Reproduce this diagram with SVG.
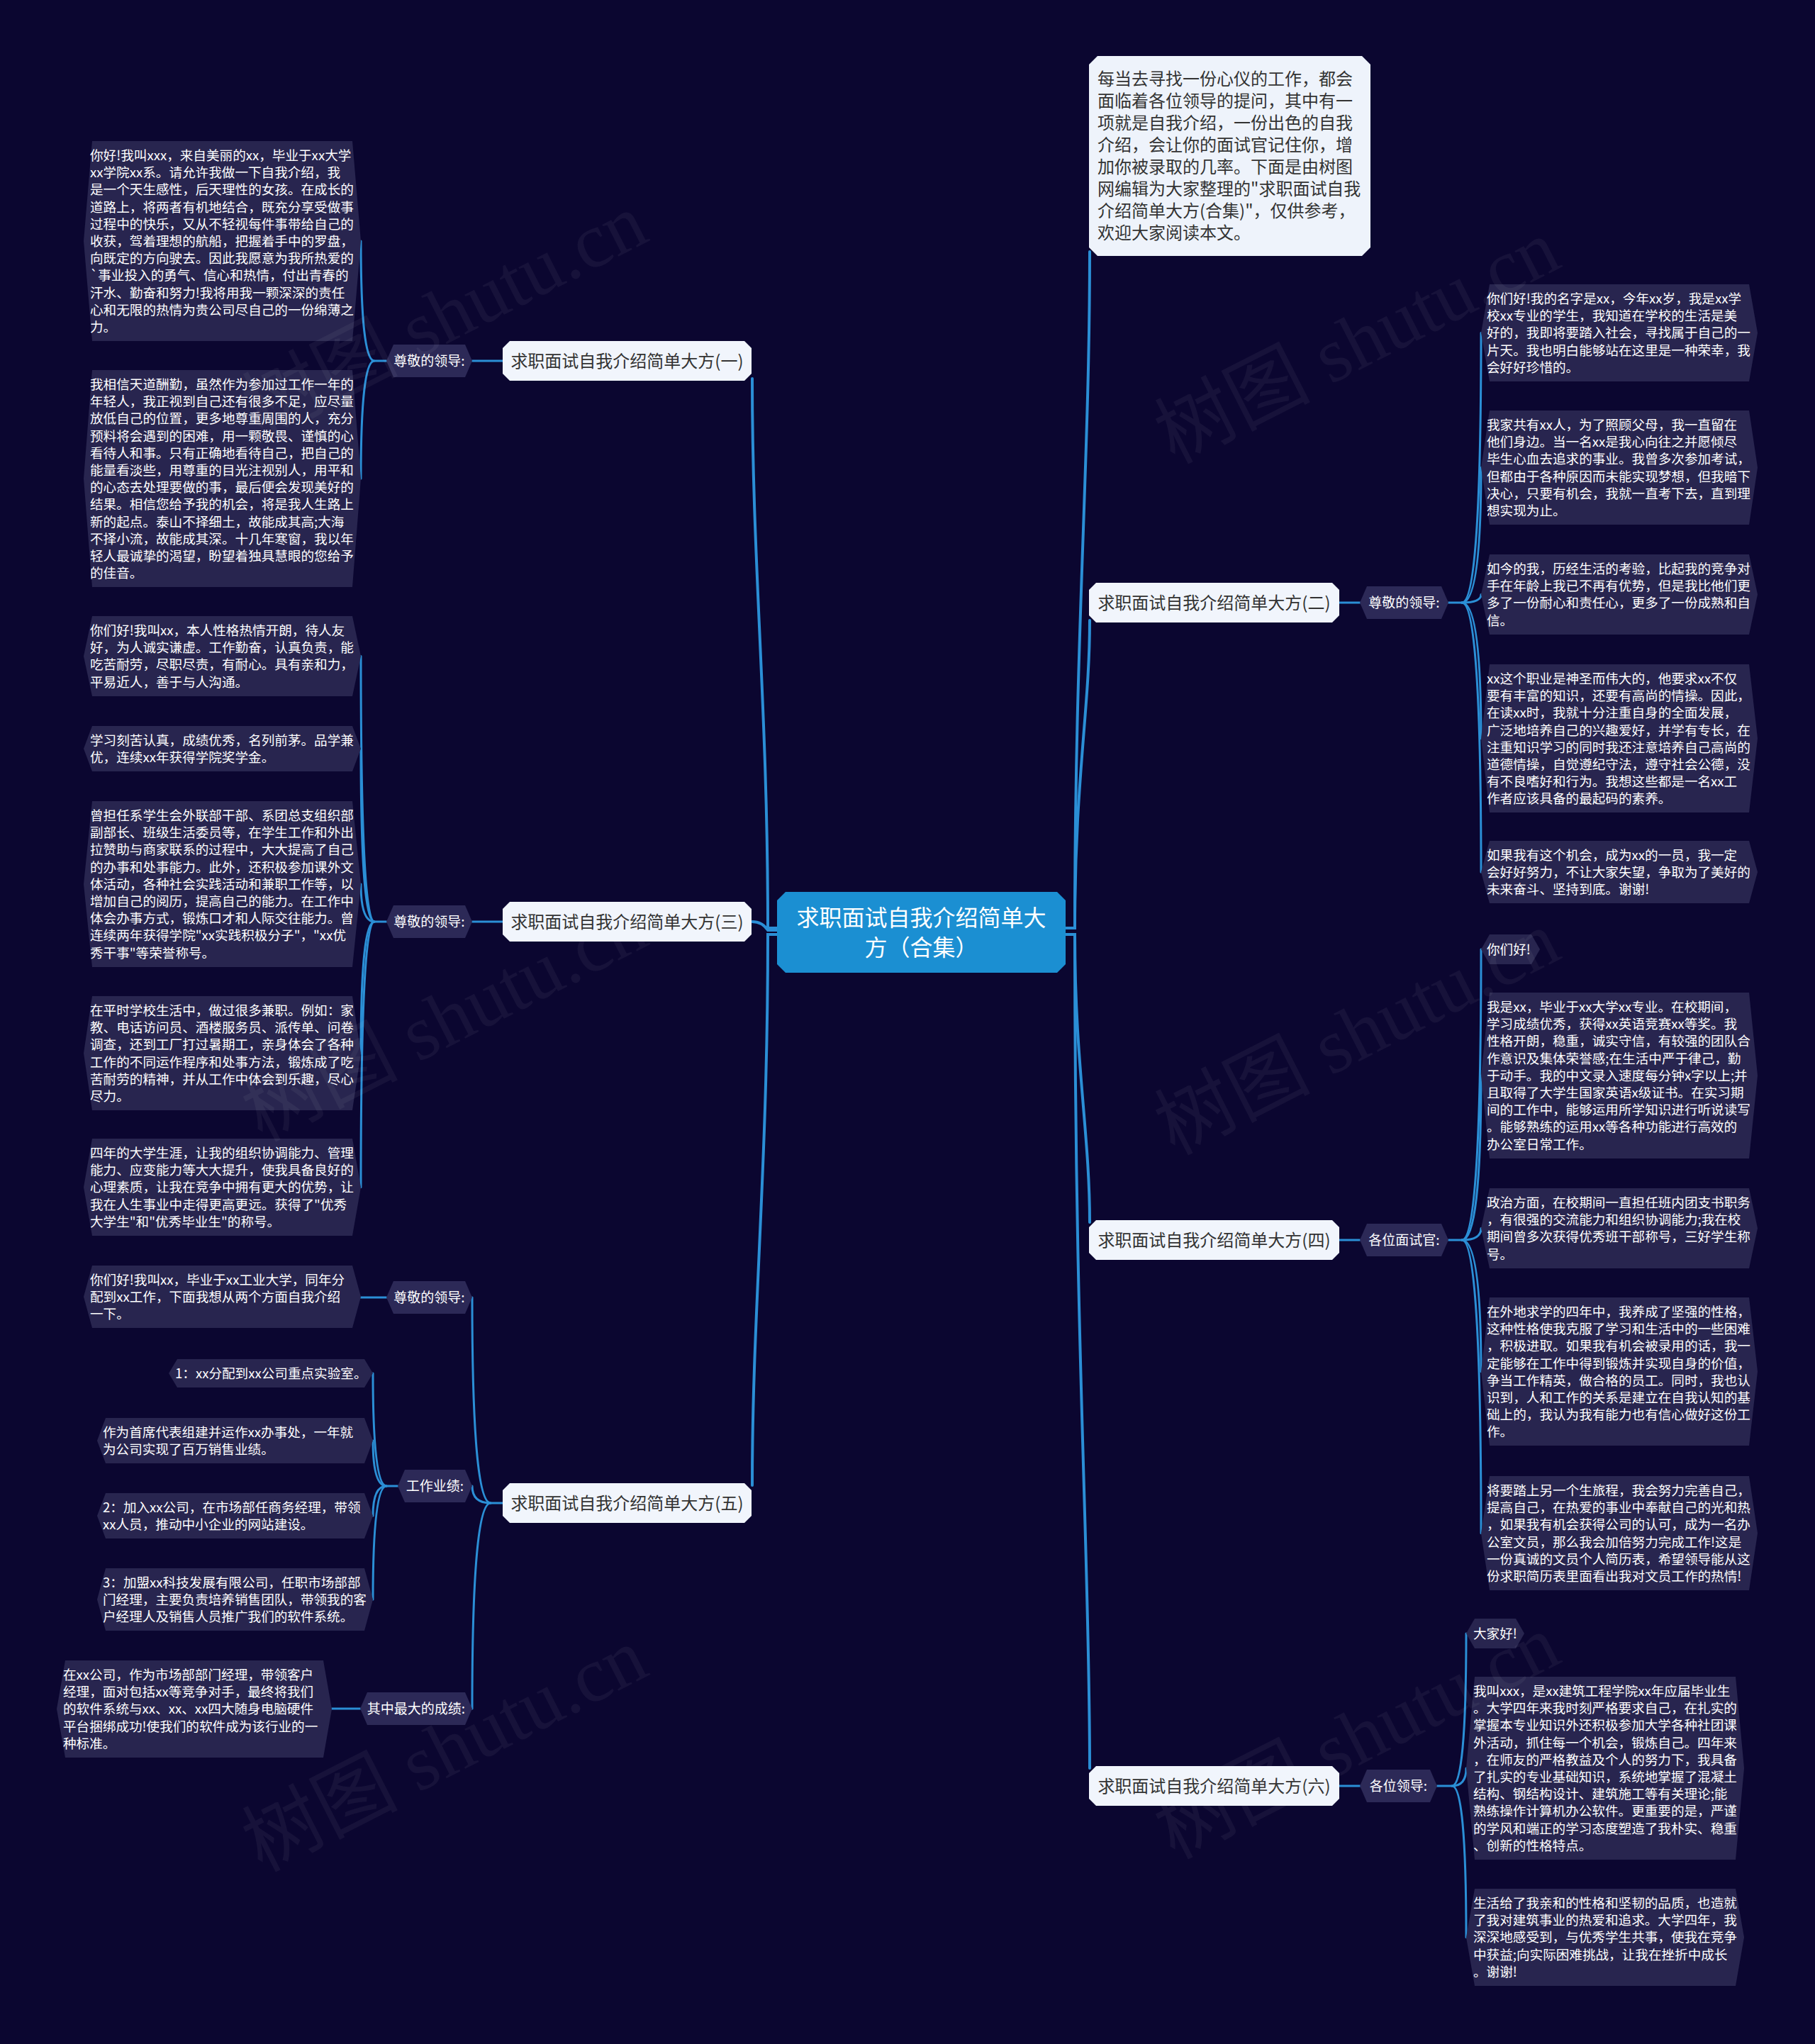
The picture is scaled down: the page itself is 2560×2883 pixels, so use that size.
<svg xmlns="http://www.w3.org/2000/svg" width="2560" height="2883" viewBox="0 0 2560 2883">
<defs>
<style>
.t{font-family:"Noto Sans CJK SC","Noto Sans",sans-serif;}
.leaf{fill:#28254f;}
.lbl{fill:#2c2957;}
.lt{font-family:"Noto Sans CJK SC","Noto Sans",sans-serif;font-size:18.6px;fill:#ffffff;}
.lbt{font-family:"Noto Sans CJK SC","Noto Sans",sans-serif;font-size:19px;fill:#ffffff;text-anchor:middle;}
.n1{fill:#f1f5fc;}
.n1t{font-family:"Noto Sans CJK SC","Noto Sans",sans-serif;font-size:24px;fill:#333333;text-anchor:middle;}
.c{fill:none;stroke:#2b8fd6;stroke-width:3;stroke-linecap:round;}
.ct{stroke-width:4;}
.wm{font-family:"Liberation Serif","Noto Sans CJK SC",serif;font-size:110px;fill:#ffffff;fill-opacity:0.05;text-anchor:middle;}
</style>
</defs>
<rect width="2560" height="2883" fill="#0b0630"/>

<g id="connectors">
<path class="c ct" d="M1096,1309 H1083 C1083,1000 1061,800 1061,534"/>
<path class="c ct" d="M1096,1312 H1083 Q1075,1300 1061,1300"/>
<path class="c ct" d="M1096,1318 H1083 C1083,1650 1061,1850 1061,2095"/>
<path class="c ct" d="M1503,1309 H1516 C1516,900 1537,650 1537,355"/>
<path class="c ct" d="M1503,1309 H1516 C1516,1100 1537,1000 1537,875"/>
<path class="c ct" d="M1503,1318 H1516 C1516,1500 1537,1600 1537,1724"/>
<path class="c ct" d="M1503,1318 H1516 C1516,1900 1537,2200 1537,2494"/>
<path class="c" d="M709,509 H666"/>
<path class="c" d="M709,1300 H666"/>
<path class="c" d="M1889,850 H1918"/>
<path class="c" d="M1889,1749 H1918"/>
<path class="c" d="M1889,2519 H1918"/>
<path class="c" d="M709,2120 H692 Q666,2120 666,1830"/>
<path class="c" d="M692,2120 Q666,2120 666,2096"/>
<path class="c" d="M692,2120 Q666,2120 666,2410"/>
<path class="c" d="M545,509 H528 Q509,509 509,340"/>
<path class="c" d="M528,509 Q509,509 509,675"/>
<path class="c" d="M545,1300 H528 Q509,1300 509,925.5"/>
<path class="c" d="M528,1300 Q509,1300 509,1056"/>
<path class="c" d="M528,1300 Q509,1300 509,1247"/>
<path class="c" d="M528,1300 Q509,1300 509,1485.5"/>
<path class="c" d="M528,1300 Q509,1300 509,1674.5"/>
<path class="c" d="M545,1830 H509"/>
<path class="c" d="M561,2096 H545 Q526,2096 526,1937"/>
<path class="c" d="M545,2096 Q526,2096 526,2032"/>
<path class="c" d="M545,2096 Q526,2096 526,2138"/>
<path class="c" d="M545,2096 Q526,2096 526,2256"/>
<path class="c" d="M508,2410 H468"/>
<path class="c" d="M2043,850 H2062 Q2089,850 2089,469.5"/>
<path class="c" d="M2062,850 Q2089,850 2089,659.5"/>
<path class="c" d="M2062,850 Q2089,850 2089,838.5"/>
<path class="c" d="M2062,850 Q2089,850 2089,1041.5"/>
<path class="c" d="M2062,850 Q2089,850 2089,1230"/>
<path class="c" d="M2043,1749 H2062 Q2089,1749 2089,1339"/>
<path class="c" d="M2062,1749 Q2089,1749 2089,1517"/>
<path class="c" d="M2062,1749 Q2089,1749 2089,1732.5"/>
<path class="c" d="M2062,1749 Q2089,1749 2089,1934.5"/>
<path class="c" d="M2062,1749 Q2089,1749 2089,2162.5"/>
<path class="c" d="M2027,2519 H2048 Q2068,2519 2068,2304"/>
<path class="c" d="M2048,2519 Q2068,2519 2068,2494"/>
<path class="c" d="M2048,2519 Q2068,2519 2068,2732.5"/>
</g>

<g id="center">
<polygon points="1108,1258 1491,1258 1503,1270 1503,1360 1491,1372 1108,1372 1096,1360 1096,1270" fill="#1b8fd2"/>
<text class="t" x="1299.5" y="1306" font-size="32" fill="#ffffff" text-anchor="middle">求职面试自我介绍简单大</text>
<text class="t" x="1299.5" y="1348" font-size="32" fill="#ffffff" text-anchor="middle">方（合集）</text>
</g>

<g id="intro">
<polygon points="1548,79 1921,79 1933,91 1933,349 1921,361 1548,361 1536,349 1536,91" fill="#eef3fb"/>
<text class="t" x="1548" y="119.5" font-size="24" fill="#333333">
<tspan x="1548" dy="0">每当去寻找一份心仪的工作，都会</tspan>
<tspan x="1548" dy="31">面临着各位领导的提问，其中有一</tspan>
<tspan x="1548" dy="31">项就是自我介绍，一份出色的自我</tspan>
<tspan x="1548" dy="31">介绍，会让你的面试官记住你，增</tspan>
<tspan x="1548" dy="31">加你被录取的几率。下面是由树图</tspan>
<tspan x="1548" dy="31">网编辑为大家整理的"求职面试自我</tspan>
<tspan x="1548" dy="31">介绍简单大方(合集)"，仅供参考，</tspan>
<tspan x="1548" dy="31">欢迎大家阅读本文。</tspan>
</text>
</g>

<g id="b1">
<polygon class="n1" points="719,481 1050,481 1060,491 1060,527 1050,537 719,537 709,527 709,491"/>
<text class="n1t" x="884.5" y="517.5">求职面试自我介绍简单大方(一)</text>
</g>
<g id="b1-label">
<polygon class="lbl" points="555,486 656,486 666,509 656,532 555,532 545,509"/>
<text class="lbt" x="605.5" y="515.5">尊敬的领导:</text>
</g>
<g id="L1">
<polygon class="leaf" points="130,199 497,199 509,340 497,481 130,481 118,340"/>
<text class="lt" x="127" y="226">
<tspan x="127" dy="0">你好!我叫xxx，来自美丽的xx，毕业于xx大学</tspan>
<tspan x="127" dy="24.2">xx学院xx系。请允许我做一下自我介绍，我</tspan>
<tspan x="127" dy="24.2">是一个天生感性，后天理性的女孩。在成长的</tspan>
<tspan x="127" dy="24.2">道路上，将两者有机地结合，既充分享受做事</tspan>
<tspan x="127" dy="24.2">过程中的快乐，又从不轻视每件事带给自己的</tspan>
<tspan x="127" dy="24.2">收获，驾着理想的航船，把握着手中的罗盘，</tspan>
<tspan x="127" dy="24.2">向既定的方向驶去。因此我愿意为我所热爱的</tspan>
<tspan x="127" dy="24.2">`事业投入的勇气、信心和热情，付出青春的</tspan>
<tspan x="127" dy="24.2">汗水、勤奋和努力!我将用我一颗深深的责任</tspan>
<tspan x="127" dy="24.2">心和无限的热情为贵公司尽自己的一份绵薄之</tspan>
<tspan x="127" dy="24.2">力。</tspan>
</text>
</g>
<g id="L2">
<polygon class="leaf" points="130,522 497,522 509,675 497,828 130,828 118,675"/>
<text class="lt" x="127" y="549">
<tspan x="127" dy="0">我相信天道酬勤，虽然作为参加过工作一年的</tspan>
<tspan x="127" dy="24.2">年轻人，我正视到自己还有很多不足，应尽量</tspan>
<tspan x="127" dy="24.2">放低自己的位置，更多地尊重周围的人，充分</tspan>
<tspan x="127" dy="24.2">预料将会遇到的困难，用一颗敬畏、谨慎的心</tspan>
<tspan x="127" dy="24.2">看待人和事。只有正确地看待自己，把自己的</tspan>
<tspan x="127" dy="24.2">能量看淡些，用尊重的目光注视别人，用平和</tspan>
<tspan x="127" dy="24.2">的心态去处理要做的事，最后便会发现美好的</tspan>
<tspan x="127" dy="24.2">结果。相信您给予我的机会，将是我人生路上</tspan>
<tspan x="127" dy="24.2">新的起点。泰山不择细土，故能成其高;大海</tspan>
<tspan x="127" dy="24.2">不择小流，故能成其深。十几年寒窗，我以年</tspan>
<tspan x="127" dy="24.2">轻人最诚挚的渴望，盼望着独具慧眼的您给予</tspan>
<tspan x="127" dy="24.2">的佳音。</tspan>
</text>
</g>

<g id="b3">
<polygon class="n1" points="719,1272 1050,1272 1060,1282 1060,1318 1050,1328 719,1328 709,1318 709,1282"/>
<text class="n1t" x="884.5" y="1308.5">求职面试自我介绍简单大方(三)</text>
</g>
<g id="b3-label">
<polygon class="lbl" points="555,1277 656,1277 666,1300 656,1323 555,1323 545,1300"/>
<text class="lbt" x="605.5" y="1306.5">尊敬的领导:</text>
</g>
<g id="L3">
<polygon class="leaf" points="130,869 497,869 509,925.5 497,982 130,982 118,925.5"/>
<text class="lt" x="127" y="896">
<tspan x="127" dy="0">你们好!我叫xx，本人性格热情开朗，待人友</tspan>
<tspan x="127" dy="24.2">好，为人诚实谦虚。工作勤奋，认真负责，能</tspan>
<tspan x="127" dy="24.2">吃苦耐劳，尽职尽责，有耐心。具有亲和力，</tspan>
<tspan x="127" dy="24.2">平易近人，善于与人沟通。</tspan>
</text>
</g>
<g id="L4">
<polygon class="leaf" points="130,1024 497,1024 509,1056 497,1088 130,1088 118,1056"/>
<text class="lt" x="127" y="1051">
<tspan x="127" dy="0">学习刻苦认真，成绩优秀，名列前茅。品学兼</tspan>
<tspan x="127" dy="24.2">优，连续xx年获得学院奖学金。</tspan>
</text>
</g>
<g id="L5">
<polygon class="leaf" points="130,1130 497,1130 509,1247 497,1364 130,1364 118,1247"/>
<text class="lt" x="127" y="1157">
<tspan x="127" dy="0">曾担任系学生会外联部干部、系团总支组织部</tspan>
<tspan x="127" dy="24.2">副部长、班级生活委员等，在学生工作和外出</tspan>
<tspan x="127" dy="24.2">拉赞助与商家联系的过程中，大大提高了自己</tspan>
<tspan x="127" dy="24.2">的办事和处事能力。此外，还积极参加课外文</tspan>
<tspan x="127" dy="24.2">体活动，各种社会实践活动和兼职工作等，以</tspan>
<tspan x="127" dy="24.2">增加自己的阅历，提高自己的能力。在工作中</tspan>
<tspan x="127" dy="24.2">体会办事方式，锻炼口才和人际交往能力。曾</tspan>
<tspan x="127" dy="24.2">连续两年获得学院"xx实践积极分子"，"xx优</tspan>
<tspan x="127" dy="24.2">秀干事"等荣誉称号。</tspan>
</text>
</g>
<g id="L6">
<polygon class="leaf" points="130,1405 497,1405 509,1485.5 497,1566 130,1566 118,1485.5"/>
<text class="lt" x="127" y="1432">
<tspan x="127" dy="0">在平时学校生活中，做过很多兼职。例如：家</tspan>
<tspan x="127" dy="24.2">教、电话访问员、酒楼服务员、派传单、问卷</tspan>
<tspan x="127" dy="24.2">调查，还到工厂打过暑期工，亲身体会了各种</tspan>
<tspan x="127" dy="24.2">工作的不同运作程序和处事方法，锻炼成了吃</tspan>
<tspan x="127" dy="24.2">苦耐劳的精神，并从工作中体会到乐趣，尽心</tspan>
<tspan x="127" dy="24.2">尽力。</tspan>
</text>
</g>
<g id="L7">
<polygon class="leaf" points="130,1606 497,1606 509,1674.5 497,1743 130,1743 118,1674.5"/>
<text class="lt" x="127" y="1633">
<tspan x="127" dy="0">四年的大学生涯，让我的组织协调能力、管理</tspan>
<tspan x="127" dy="24.2">能力、应变能力等大大提升，使我具备良好的</tspan>
<tspan x="127" dy="24.2">心理素质，让我在竞争中拥有更大的优势，让</tspan>
<tspan x="127" dy="24.2">我在人生事业中走得更高更远。获得了"优秀</tspan>
<tspan x="127" dy="24.2">大学生"和"优秀毕业生"的称号。</tspan>
</text>
</g>

<g id="b5">
<polygon class="n1" points="719,2092 1050,2092 1060,2102 1060,2138 1050,2148 719,2148 709,2138 709,2102"/>
<text class="n1t" x="884.5" y="2128.5">求职面试自我介绍简单大方(五)</text>
</g>
<g id="b5-label1">
<polygon class="lbl" points="555,1807 656,1807 666,1830 656,1853 555,1853 545,1830"/>
<text class="lbt" x="605.5" y="1836.5">尊敬的领导:</text>
</g>
<g id="b5-label2">
<polygon class="lbl" points="571,2073 656,2073 666,2096 656,2119 571,2119 561,2096"/>
<text class="lbt" x="613.5" y="2102.5">工作业绩:</text>
</g>
<g id="b5-label3">
<polygon class="lbl" points="518,2387 656,2387 666,2410 656,2433 518,2433 508,2410"/>
<text class="lbt" x="587" y="2416.5">其中最大的成绩:</text>
</g>
<g id="L8">
<polygon class="leaf" points="130,1785 497,1785 509,1829 497,1873 130,1873 118,1829"/>
<text class="lt" x="127" y="1812">
<tspan x="127" dy="0">你们好!我叫xx，毕业于xx工业大学，同年分</tspan>
<tspan x="127" dy="24.2">配到xx工作，下面我想从两个方面自我介绍</tspan>
<tspan x="127" dy="24.2">一下。</tspan>
</text>
</g>
<g id="L9">
<polygon class="leaf" points="250,1917 514,1917 526,1937 514,1957 250,1957 238,1937"/>
<text class="lt" x="247" y="1944">1：xx分配到xx公司重点实验室。</text>
</g>
<g id="L10">
<polygon class="leaf" points="149,2000 514,2000 526,2032 514,2064 149,2064 137,2032"/>
<text class="lt" x="145" y="2027">
<tspan x="145" dy="0">作为首席代表组建并运作xx办事处，一年就</tspan>
<tspan x="145" dy="24.2">为公司实现了百万销售业绩。</tspan>
</text>
</g>
<g id="L11">
<polygon class="leaf" points="149,2106 514,2106 526,2138 514,2170 149,2170 137,2138"/>
<text class="lt" x="145" y="2133">
<tspan x="145" dy="0">2：加入xx公司，在市场部任商务经理，带领</tspan>
<tspan x="145" dy="24.2">xx人员，推动中小企业的网站建设。</tspan>
</text>
</g>
<g id="L12">
<polygon class="leaf" points="149,2212 514,2212 526,2256 514,2300 149,2300 137,2256"/>
<text class="lt" x="145" y="2239">
<tspan x="145" dy="0">3：加盟xx科技发展有限公司，任职市场部部</tspan>
<tspan x="145" dy="24.2">门经理，主要负责培养销售团队，带领我的客</tspan>
<tspan x="145" dy="24.2">户经理人及销售人员推广我们的软件系统。</tspan>
</text>
</g>
<g id="L13">
<polygon class="leaf" points="92,2342 456,2342 468,2410.5 456,2479 92,2479 80,2410.5"/>
<text class="lt" x="89" y="2369">
<tspan x="89" dy="0">在xx公司，作为市场部部门经理，带领客户</tspan>
<tspan x="89" dy="24.2">经理，面对包括xx等竞争对手，最终将我们</tspan>
<tspan x="89" dy="24.2">的软件系统与xx、xx、xx四大随身电脑硬件</tspan>
<tspan x="89" dy="24.2">平台捆绑成功!使我们的软件成为该行业的一</tspan>
<tspan x="89" dy="24.2">种标准。</tspan>
</text>
</g>

<g id="b2">
<polygon class="n1" points="1546,822 1879,822 1889,832 1889,868 1879,878 1546,878 1536,868 1536,832"/>
<text class="n1t" x="1712.5" y="858.5">求职面试自我介绍简单大方(二)</text>
</g>
<g id="b2-label">
<polygon class="lbl" points="1928,827 2033,827 2043,850 2033,873 1928,873 1918,850"/>
<text class="lbt" x="1980.5" y="856.5">尊敬的领导:</text>
</g>
<g id="R1">
<polygon class="leaf" points="2101,401 2467,401 2479,469.5 2467,538 2101,538 2089,469.5"/>
<text class="lt" x="2097" y="428">
<tspan x="2097" dy="0">你们好!我的名字是xx，今年xx岁，我是xx学</tspan>
<tspan x="2097" dy="24.2">校xx专业的学生，我知道在学校的生活是美</tspan>
<tspan x="2097" dy="24.2">好的，我即将要踏入社会，寻找属于自己的一</tspan>
<tspan x="2097" dy="24.2">片天。我也明白能够站在这里是一种荣幸，我</tspan>
<tspan x="2097" dy="24.2">会好好珍惜的。</tspan>
</text>
</g>
<g id="R2">
<polygon class="leaf" points="2101,579 2467,579 2479,659.5 2467,740 2101,740 2089,659.5"/>
<text class="lt" x="2097" y="606">
<tspan x="2097" dy="0">我家共有xx人，为了照顾父母，我一直留在</tspan>
<tspan x="2097" dy="24.2">他们身边。当一名xx是我心向往之并愿倾尽</tspan>
<tspan x="2097" dy="24.2">毕生心血去追求的事业。我曾多次参加考试，</tspan>
<tspan x="2097" dy="24.2">但都由于各种原因而未能实现梦想，但我暗下</tspan>
<tspan x="2097" dy="24.2">决心，只要有机会，我就一直考下去，直到理</tspan>
<tspan x="2097" dy="24.2">想实现为止。</tspan>
</text>
</g>
<g id="R3">
<polygon class="leaf" points="2101,782 2467,782 2479,838.5 2467,895 2101,895 2089,838.5"/>
<text class="lt" x="2097" y="809">
<tspan x="2097" dy="0">如今的我，历经生活的考验，比起我的竞争对</tspan>
<tspan x="2097" dy="24.2">手在年龄上我已不再有优势，但是我比他们更</tspan>
<tspan x="2097" dy="24.2">多了一份耐心和责任心，更多了一份成熟和自</tspan>
<tspan x="2097" dy="24.2">信。</tspan>
</text>
</g>
<g id="R4">
<polygon class="leaf" points="2101,937 2467,937 2479,1041.5 2467,1146 2101,1146 2089,1041.5"/>
<text class="lt" x="2097" y="964">
<tspan x="2097" dy="0">xx这个职业是神圣而伟大的，他要求xx不仅</tspan>
<tspan x="2097" dy="24.2">要有丰富的知识，还要有高尚的情操。因此，</tspan>
<tspan x="2097" dy="24.2">在读xx时，我就十分注重自身的全面发展，</tspan>
<tspan x="2097" dy="24.2">广泛地培养自己的兴趣爱好，并学有专长，在</tspan>
<tspan x="2097" dy="24.2">注重知识学习的同时我还注意培养自己高尚的</tspan>
<tspan x="2097" dy="24.2">道德情操，自觉遵纪守法，遵守社会公德，没</tspan>
<tspan x="2097" dy="24.2">有不良嗜好和行为。我想这些都是一名xx工</tspan>
<tspan x="2097" dy="24.2">作者应该具备的最起码的素养。</tspan>
</text>
</g>
<g id="R5">
<polygon class="leaf" points="2101,1186 2467,1186 2479,1230 2467,1274 2101,1274 2089,1230"/>
<text class="lt" x="2097" y="1213">
<tspan x="2097" dy="0">如果我有这个机会，成为xx的一员，我一定</tspan>
<tspan x="2097" dy="24.2">会好好努力，不让大家失望，争取为了美好的</tspan>
<tspan x="2097" dy="24.2">未来奋斗、坚持到底。谢谢!</tspan>
</text>
</g>

<g id="b4">
<polygon class="n1" points="1546,1721 1879,1721 1889,1731 1889,1767 1879,1777 1546,1777 1536,1767 1536,1731"/>
<text class="n1t" x="1712.5" y="1757.5">求职面试自我介绍简单大方(四)</text>
</g>
<g id="b4-label">
<polygon class="lbl" points="1928,1726 2033,1726 2043,1749 2033,1772 1928,1772 1918,1749"/>
<text class="lbt" x="1980.5" y="1755.5">各位面试官:</text>
</g>
<g id="R6">
<polygon class="leaf" points="2101,1318 2160,1318 2172,1339 2160,1360 2101,1360 2089,1339"/>
<text class="lt" x="2097" y="1345.5">你们好!</text>
</g>
<g id="R7">
<polygon class="leaf" points="2101,1400 2467,1400 2479,1517 2467,1634 2101,1634 2089,1517"/>
<text class="lt" x="2097" y="1427">
<tspan x="2097" dy="0">我是xx，毕业于xx大学xx专业。在校期间，</tspan>
<tspan x="2097" dy="24.2">学习成绩优秀，获得xx英语竞赛xx等奖。我</tspan>
<tspan x="2097" dy="24.2">性格开朗，稳重，诚实守信，有较强的团队合</tspan>
<tspan x="2097" dy="24.2">作意识及集体荣誉感;在生活中严于律己，勤</tspan>
<tspan x="2097" dy="24.2">于动手。我的中文录入速度每分钟x字以上;并</tspan>
<tspan x="2097" dy="24.2">且取得了大学生国家英语x级证书。在实习期</tspan>
<tspan x="2097" dy="24.2">间的工作中，能够运用所学知识进行听说读写</tspan>
<tspan x="2097" dy="24.2">。能够熟练的运用xx等各种功能进行高效的</tspan>
<tspan x="2097" dy="24.2">办公室日常工作。</tspan>
</text>
</g>
<g id="R8">
<polygon class="leaf" points="2101,1676 2467,1676 2479,1732.5 2467,1789 2101,1789 2089,1732.5"/>
<text class="lt" x="2097" y="1703">
<tspan x="2097" dy="0">政治方面，在校期间一直担任班内团支书职务</tspan>
<tspan x="2097" dy="24.2">，有很强的交流能力和组织协调能力;我在校</tspan>
<tspan x="2097" dy="24.2">期间曾多次获得优秀班干部称号，三好学生称</tspan>
<tspan x="2097" dy="24.2">号。</tspan>
</text>
</g>
<g id="R9">
<polygon class="leaf" points="2101,1830 2467,1830 2479,1934.5 2467,2039 2101,2039 2089,1934.5"/>
<text class="lt" x="2097" y="1857">
<tspan x="2097" dy="0">在外地求学的四年中，我养成了坚强的性格，</tspan>
<tspan x="2097" dy="24.2">这种性格使我克服了学习和生活中的一些困难</tspan>
<tspan x="2097" dy="24.2">，积极进取。如果我有机会被录用的话，我一</tspan>
<tspan x="2097" dy="24.2">定能够在工作中得到锻炼并实现自身的价值，</tspan>
<tspan x="2097" dy="24.2">争当工作精英，做合格的员工。同时，我也认</tspan>
<tspan x="2097" dy="24.2">识到，人和工作的关系是建立在自我认知的基</tspan>
<tspan x="2097" dy="24.2">础上的，我认为我有能力也有信心做好这份工</tspan>
<tspan x="2097" dy="24.2">作。</tspan>
</text>
</g>
<g id="R10">
<polygon class="leaf" points="2101,2082 2467,2082 2479,2162.5 2467,2243 2101,2243 2089,2162.5"/>
<text class="lt" x="2097" y="2109">
<tspan x="2097" dy="0">将要踏上另一个生旅程，我会努力完善自己，</tspan>
<tspan x="2097" dy="24.2">提高自己，在热爱的事业中奉献自己的光和热</tspan>
<tspan x="2097" dy="24.2">，如果我有机会获得公司的认可，成为一名办</tspan>
<tspan x="2097" dy="24.2">公室文员，那么我会加倍努力完成工作!这是</tspan>
<tspan x="2097" dy="24.2">一份真诚的文员个人简历表，希望领导能从这</tspan>
<tspan x="2097" dy="24.2">份求职简历表里面看出我对文员工作的热情!</tspan>
</text>
</g>

<g id="b6">
<polygon class="n1" points="1546,2491 1879,2491 1889,2501 1889,2537 1879,2547 1546,2547 1536,2537 1536,2501"/>
<text class="n1t" x="1712.5" y="2527.5">求职面试自我介绍简单大方(六)</text>
</g>
<g id="b6-label">
<polygon class="lbl" points="1928,2496 2017,2496 2027,2519 2017,2542 1928,2542 1918,2519"/>
<text class="lbt" x="1972.5" y="2525.5">各位领导:</text>
</g>
<g id="R11">
<polygon class="leaf" points="2080,2283 2138,2283 2150,2304 2138,2325 2080,2325 2068,2304"/>
<text class="lt" x="2078" y="2310.5">大家好!</text>
</g>
<g id="R12">
<polygon class="leaf" points="2080,2365 2448,2365 2460,2494 2448,2623 2080,2623 2068,2494"/>
<text class="lt" x="2078" y="2392">
<tspan x="2078" dy="0">我叫xxx，是xx建筑工程学院xx年应届毕业生</tspan>
<tspan x="2078" dy="24.2">。大学四年来我时刻严格要求自己，在扎实的</tspan>
<tspan x="2078" dy="24.2">掌握本专业知识外还积极参加大学各种社团课</tspan>
<tspan x="2078" dy="24.2">外活动，抓住每一个机会，锻炼自己。四年来</tspan>
<tspan x="2078" dy="24.2">，在师友的严格教益及个人的努力下，我具备</tspan>
<tspan x="2078" dy="24.2">了扎实的专业基础知识，系统地掌握了混凝土</tspan>
<tspan x="2078" dy="24.2">结构、钢结构设计、建筑施工等有关理论;能</tspan>
<tspan x="2078" dy="24.2">熟练操作计算机办公软件。更重要的是，严谨</tspan>
<tspan x="2078" dy="24.2">的学风和端正的学习态度塑造了我朴实、稳重</tspan>
<tspan x="2078" dy="24.2">、创新的性格特点。</tspan>
</text>
</g>
<g id="R13">
<polygon class="leaf" points="2080,2664 2448,2664 2460,2732.5 2448,2801 2080,2801 2068,2732.5"/>
<text class="lt" x="2078" y="2691">
<tspan x="2078" dy="0">生活给了我亲和的性格和坚韧的品质，也造就</tspan>
<tspan x="2078" dy="24.2">了我对建筑事业的热爱和追求。大学四年，我</tspan>
<tspan x="2078" dy="24.2">深深地感受到，与优秀学生共事，使我在竞争</tspan>
<tspan x="2078" dy="24.2">中获益;向实际困难挑战，让我在挫折中成长</tspan>
<tspan x="2078" dy="24.2">。谢谢!</tspan>
</text>
</g>

<g id="watermarks">
<text class="wm" x="644" y="478" transform="rotate(-27 644 478)">树图 shutu.cn</text>
<text class="wm" x="644" y="1471" transform="rotate(-27 644 1471)">树图 shutu.cn</text>
<text class="wm" x="644" y="2501" transform="rotate(-27 644 2501)">树图 shutu.cn</text>
<text class="wm" x="1931" y="515" transform="rotate(-27 1931 515)">树图 shutu.cn</text>
<text class="wm" x="1931" y="1490" transform="rotate(-27 1931 1490)">树图 shutu.cn</text>
<text class="wm" x="1931" y="2483" transform="rotate(-27 1931 2483)">树图 shutu.cn</text>
</g>
</svg>
